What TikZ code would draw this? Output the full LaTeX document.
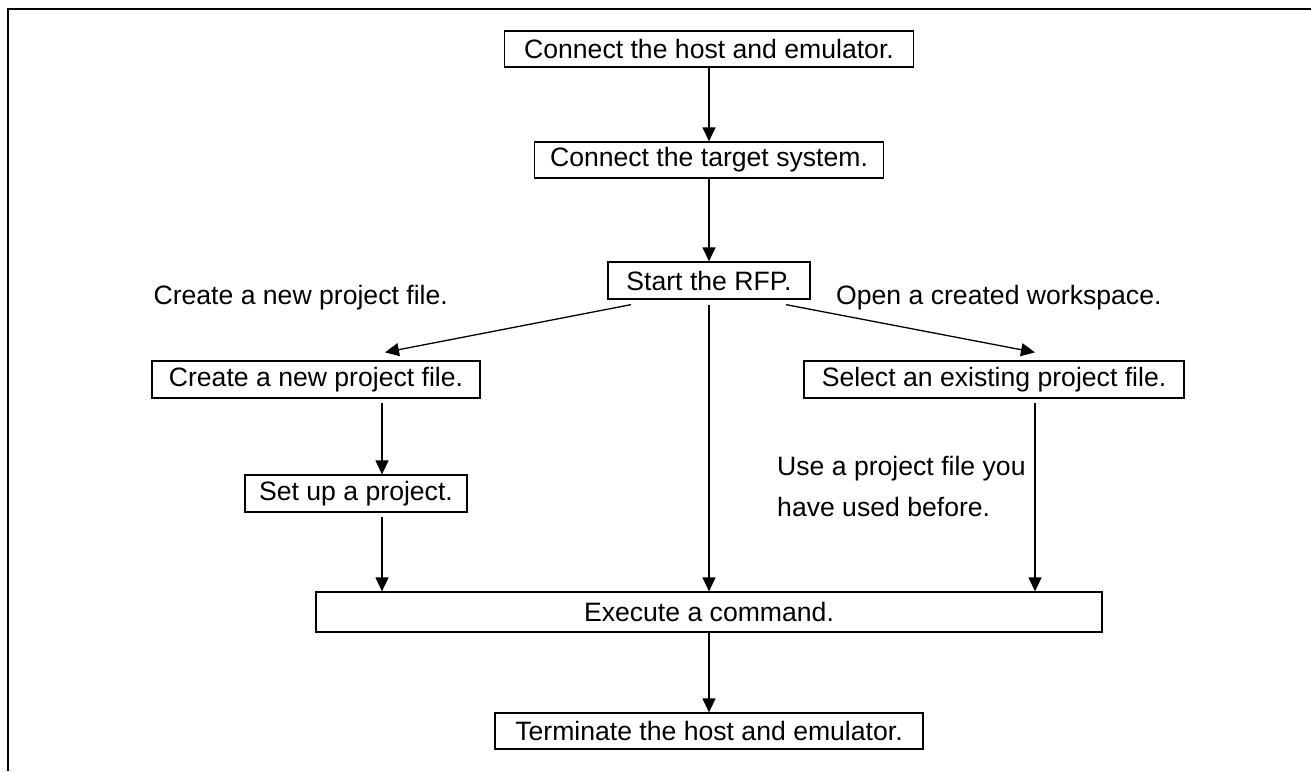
\documentclass[tikz,border=0pt]{standalone}
\usepackage{fontspec}
\setmainfont{Liberation Sans}
\usetikzlibrary{arrows.meta,calc}
\begin{document}
\begin{tikzpicture}[x=1pt,y=-1pt,
  box/.style={draw, line width=1.3pt, inner sep=0pt, align=center, font=\fontsize{26.6}{30}\selectfont},
  lbl/.style={inner sep=0pt, font=\fontsize{26.6}{30}\selectfont},
  arr/.style={line width=1.3pt, -{Triangle[length=14pt,width=13pt]}},
  frame/.style={line width=2.3pt}]
\useasboundingbox (0,0) rectangle (1311,771);
% frame (left and top)
\coordinate (fa) at (8,771);
\coordinate (fb) at (8,9);
\coordinate (fc) at (1311,9);
\draw[frame] (fa) -- (fb) -- (fc);
% boxes
\node[box, minimum width=409, minimum height=36] (b1) at (709,49) {Connect the host and emulator.};
\node[box, minimum width=349, minimum height=36] (b2) at (709,160) {Connect the target system.};
\node[box, minimum width=202, minimum height=37] (b3) at (709,280.5) {Start the RFP.};
\node[box, minimum width=328, minimum height=37] (b4) at (316,379.5) {Create a new project file.};
\node[box, minimum width=380, minimum height=37] (b5) at (994,379.5) {Select an existing project file.};
\node[box, minimum width=222, minimum height=37] (b6) at (356,493.5) {Set up a project.};
\node[box, minimum width=786, minimum height=40] (b7) at (709,612) {Execute a command.};
\node[box, minimum width=428, minimum height=36] (b8) at (709,731) {Terminate the host and emulator.};
% labels
\node[lbl, anchor=base east] (l1) at (448,304) {Create a new project file.};
\node[lbl, anchor=base west] (l2) at (836,304) {Open a created workspace.};
\node[lbl, anchor=base west] (l3) at (777,475) {Use a project file you};
\node[lbl, anchor=base west] (l4) at (777,516) {have used before.};
% helper x positions
\coordinate (xl) at (382,0);
\coordinate (xr) at (1035,0);
% connectors
\draw[arr] (b1.south) -- (b2.north);
\draw[arr] (b2.south) -- (b3.north);
\draw[arr] ($(b3.south)+(-78,5)$) -- ($(b4.north)+(69,-8)$);
\draw[arr] ($(b3.south)+(77,5)$) -- ($(b5.north)+(41,-8)$);
\draw[arr] ($(b3.south)+(0,5)$) -- (b7.north);
\draw[arr, shorten <=4pt] (b4.south -| xl) -- (b6.north -| xl);
\draw[arr, shorten <=4pt] (b6.south -| xl) -- (b7.north -| xl);
\draw[arr, shorten <=4pt] (b5.south -| xr) -- (b7.north -| xr);
\draw[arr] (b7.south) -- (b8.north);
\end{tikzpicture}
\end{document}
